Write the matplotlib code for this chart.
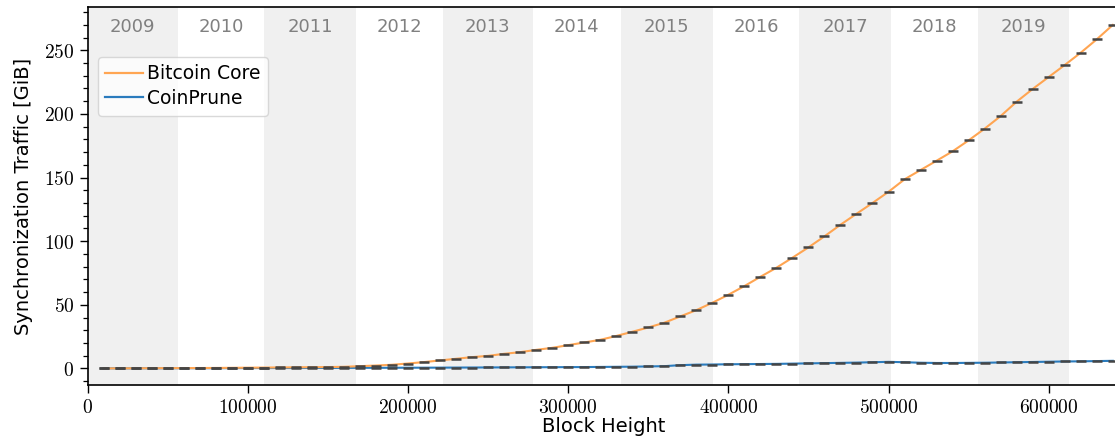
import numpy as np
import matplotlib
matplotlib.use("Agg")
import matplotlib.pyplot as plt
from matplotlib.ticker import FuncFormatter, MultipleLocator

# Block heights of the measurement points (every 10,000 blocks)
block_heights = np.arange(10000, 640001, 10000)

# Cumulative synchronization traffic in GiB
bitcoin_core = [
    0.05, 0.1, 0.15, 0.2, 0.25, 0.3, 0.35, 0.4, 0.5, 0.6,
    0.7, 0.8, 0.9, 1.0, 1.1, 1.3, 1.8, 2.3, 2.9, 3.9,
    5.0, 6.3, 7.6, 8.9, 9.9, 11.5, 12.8, 14.6, 16.2, 18.3,
    20.4, 22.5, 25.5, 28.8, 32.2, 35.9, 40.9, 45.8, 51.6, 57.9,
    64.7, 72.0, 79.1, 87.0, 95.1, 103.8, 112.9, 121.5, 130.0, 138.8,
    148.6, 155.9, 163.2, 170.6, 179.2, 188.4, 198.3, 209.6, 219.6, 229.0,
    238.4, 248.1, 258.6, 269.9,
]
coinprune = [
    0.1, 0.1, 0.1, 0.15, 0.15, 0.2, 0.2, 0.2, 0.25, 0.3,
    0.3, 0.35, 0.35, 0.4, 0.4, 0.45, 0.5, 0.5, 0.55, 0.6,
    0.6, 0.65, 0.7, 0.75, 0.8, 0.85, 0.9, 0.95, 1.0, 1.05,
    1.1, 1.2, 1.3, 1.4, 1.6, 1.8, 2.6, 3.0, 3.1, 3.3,
    3.4, 3.5, 3.6, 3.8, 4.0, 4.2, 4.4, 4.6, 4.9, 5.2,
    4.9, 4.5, 4.3, 4.3, 4.4, 4.5, 4.7, 4.9, 5.1, 5.3,
    5.5, 5.6, 5.8, 6.0,
]

# First block of each calendar year shown as a background band
years = [2009, 2010, 2011, 2012, 2013, 2014, 2015, 2016, 2017, 2018, 2019, 2020]
year_start_blocks = [0, 56300, 110200, 167400, 221700, 278000, 333000,
                     390300, 444300, 501400, 555700, 612900]

plt.rcParams["mathtext.fontset"] = "cm"
sans = ["DejaVu Sans"]

fig = plt.figure(figsize=(11.15, 4.48), dpi=100)
ax = fig.add_axes([0.0785, 0.1406, 0.9267, 0.8438])

x_max = 645000
y_min, y_max = -13, 284

# alternating year bands
band_edges = year_start_blocks + [x_max]
for i, yr in enumerate(years):
    lo, hi = band_edges[i], band_edges[i + 1]
    if i % 2 == 0:
        ax.axvspan(lo, hi, color="#f0f0f0", lw=0, zorder=0)
    if yr <= 2019:
        ax.text((lo + hi) / 2, 268, str(yr), ha="center", va="center",
                fontsize=13, color="#808080", family=sans, zorder=1)

ax.plot(block_heights, coinprune, color="#2a7bbd", lw=1.5, zorder=2,
        label="CoinPrune")
ax.plot(block_heights, bitcoin_core, color="#ffa552", lw=1.5, zorder=3,
        label="Bitcoin Core")

# spread markers at each measurement point
for series in (bitcoin_core, coinprune):
    ax.plot(block_heights, series, ls="none", marker="_", ms=7, mew=1.8,
            color="#454545", zorder=4)

ax.set_xlim(0, x_max)
ax.set_ylim(y_min, y_max)
ax.xaxis.set_major_locator(MultipleLocator(100000))
ax.yaxis.set_major_locator(MultipleLocator(50))
ax.yaxis.set_minor_locator(MultipleLocator(10))
fmt = FuncFormatter(lambda v, p: r"$%d$" % int(round(v)))
ax.xaxis.set_major_formatter(fmt)
ax.yaxis.set_major_formatter(fmt)
ax.tick_params(axis="both", which="major", labelsize=14, length=6, width=1,
               direction="out")
ax.tick_params(axis="y", which="minor", length=3.5, width=0.9)

for side in ("left", "bottom", "top"):
    ax.spines[side].set_linewidth(1.2)
ax.spines["right"].set_visible(False)

ax.set_xlabel("Block Height", fontsize=14, family=sans, labelpad=0)
ax.set_ylabel("Synchronization Traffic [GiB]", fontsize=14, family=sans,
              labelpad=8)

handles, labels = ax.get_legend_handles_labels()
leg = ax.legend(handles[::-1], labels[::-1], loc="upper left",
                bbox_to_anchor=(0.01, 0.868), borderaxespad=0,
                prop={"family": sans, "size": 13.5}, handlelength=2.0,
                handletextpad=0.2, labelspacing=0.3, borderpad=0.4,
                frameon=True, fancybox=True, framealpha=0.8,
                edgecolor="#d0d0d0")
for line in leg.get_lines():
    line.set_linewidth(1.6)

fig.savefig("out.png", dpi=100)
